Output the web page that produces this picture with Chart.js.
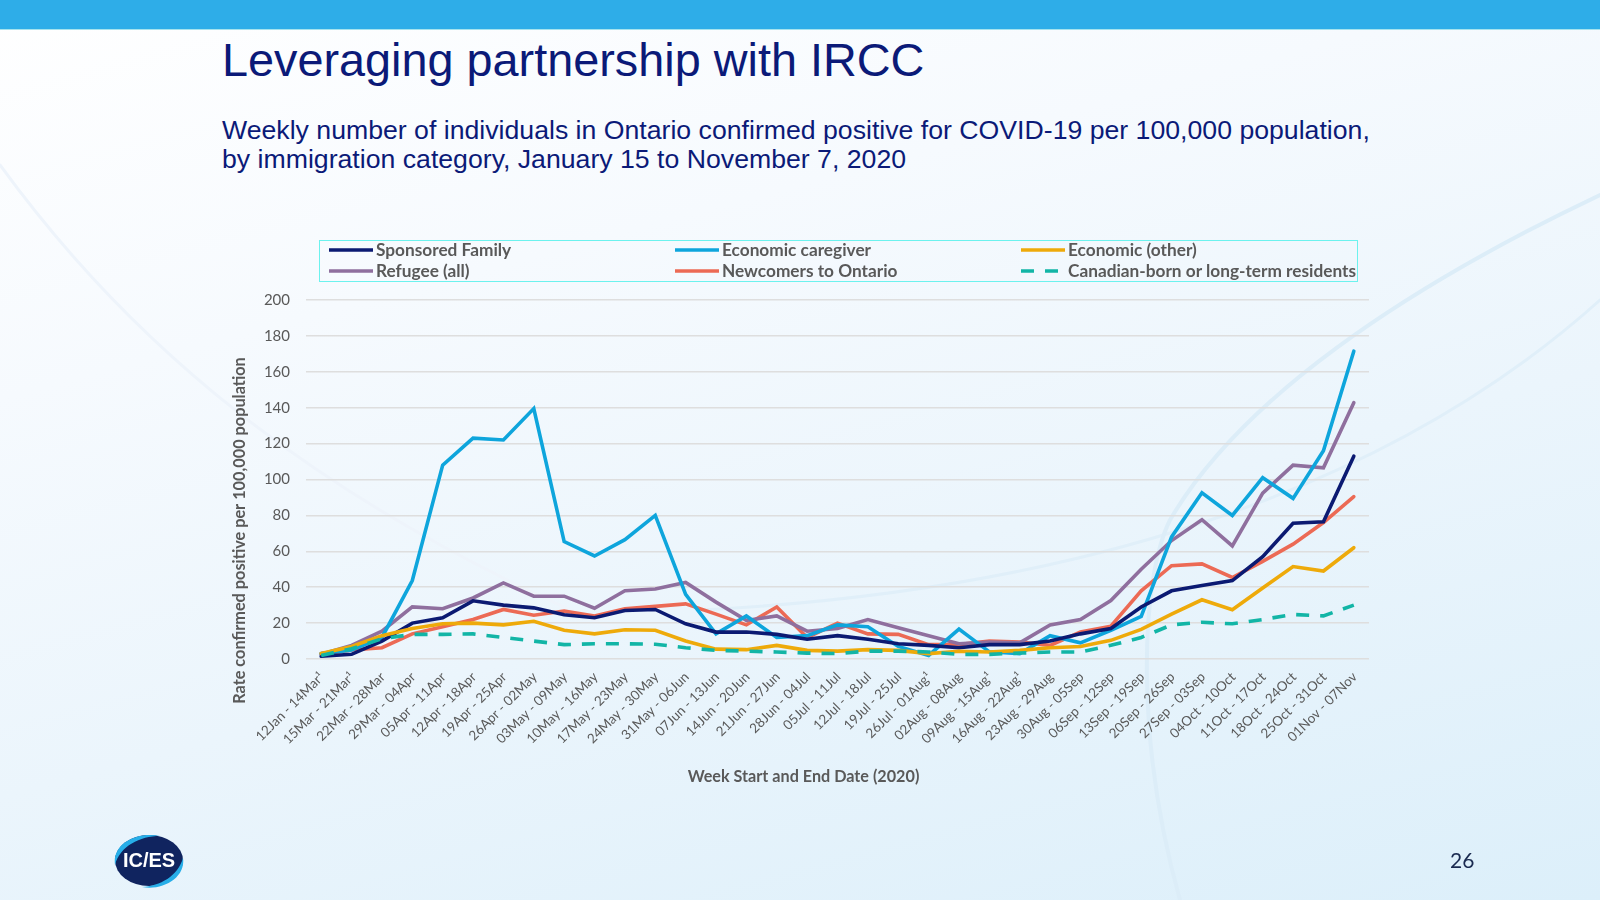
<!DOCTYPE html>
<html><head><meta charset="utf-8">
<style>
html,body{margin:0;padding:0;width:1600px;height:900px;overflow:hidden;background:#fff}
#bg{position:absolute;left:0;top:0;width:1600px;height:900px;background:linear-gradient(165deg,#ffffff 0%,#f6fafe 30%,#ebf5fc 60%,#dceffa 100%)}
#band{position:absolute;left:0;top:0;width:1600px;height:30px;background:#2eade8;border-bottom:1px solid #a5e3ee;box-sizing:border-box}
#title{position:absolute;left:222px;top:33px;font:46.8px "Liberation Sans",Arial,sans-serif;color:#0b1a78;white-space:nowrap}
#sub{position:absolute;left:222px;top:116px;font:26.67px/29px "Liberation Sans",Arial,sans-serif;color:#0b1a78;white-space:nowrap}
#chart{position:absolute;left:0;top:0;width:1600px;height:900px}
#legend{position:absolute;left:319px;top:240px;width:1037px;height:40px;border:1.5px solid #6cf2ee;box-sizing:content-box}
.li{position:absolute;font:bold 17.25px Lato,sans-serif;color:#595959;white-space:nowrap;line-height:20px}
.li svg{position:absolute;left:-48px;top:0}
#page{position:absolute;left:1450px;top:847px;font:21px Lato,sans-serif;color:#1a2a50}
#logo{position:absolute;left:110px;top:832px}
svg#curves{position:absolute;left:0;top:0}
</style></head><body>
<div id="bg"></div>
<svg id="curves" width="1600" height="900" fill="none" stroke-linecap="round">
<path d="M0 165 C120 330 300 500 640 640" stroke="#eef4fb" stroke-width="3"/>
<path d="M1600 300 C1400 480 1100 590 700 610" stroke="#e0eff9" stroke-width="3"/>
<path d="M1600 195 C1400 290 1240 400 1170 520 C1140 580 1135 740 1180 900" stroke="#dcedf8" stroke-width="4"/>
</svg>
<div id="band"></div>
<div id="title">Leveraging partnership with IRCC</div>
<div id="sub">Weekly number of individuals in Ontario confirmed positive for COVID-19 per 100,000 population,<br>by immigration category, January 15 to November 7, 2020</div>
<canvas id="chart" width="1600" height="900"></canvas>
<div id="legend"></div>
<svg id="logo" width="80" height="60"><ellipse cx="39" cy="28.5" rx="34" ry="25.5" fill="#10245f"/><path d="M5 33 C2 12 26 -1 50 4 C30 4 10 14 5 33Z" fill="#27aee8"/><path d="M73 26 C76 46 52 59 32 55 C50 54 68 44 73 26Z" fill="#27aee8"/><text x="39" y="35" text-anchor="middle" font-family="Liberation Sans" font-weight="bold" font-size="20" fill="#fff">IC/ES</text></svg>
<div id="page">26</div>
<script src="https://cdn.jsdelivr.net/npm/chart.js@4/dist/chart.umd.min.js"></script>
<script>
const weeks=["12Jan - 14Mar¹","15Mar - 21Mar¹","22Mar - 28Mar","29Mar - 04Apr","05Apr - 11Apr","12Apr - 18Apr","19Apr - 25Apr","26Apr - 02May","03May - 09May","10May - 16May","17May - 23May","24May - 30May","31May - 06Jun","07Jun - 13Jun","14Jun - 20Jun","21Jun - 27Jun","28Jun - 04Jul","05Jul - 11Jul","12Jul - 18Jul","19Jul - 25Jul","26Jul - 01Aug¹","02Aug - 08Aug","09Aug - 15Aug¹","16Aug - 22Aug¹","23Aug - 29Aug","30Aug - 05Sep","06Sep - 12Sep","13Sep - 19Sep","20Sep - 26Sep","27Sep - 03Sep","04Oct - 10Oct","11Oct - 17Oct","18Oct - 24Oct","25Oct - 31Oct","01Nov - 07Nov"];
const sponsoredFamily=[1.5,2.6,10,20,23,32.4,30,28.5,24.6,23,27,27.6,19.6,15,15,13.7,11,13,11,8.5,7.6,6.3,8,8,10,14,17,29,38,41,43.7,57,75.6,76.5,113];
const economicCaregiver=[3,5,12,43.7,108,123,122,139.5,65.4,57.4,66.5,80,36,14,24,12,13,19,18,7,2,16.7,4,3,13,9,16,23.7,68,92.6,80,101,89.5,116,171.5];
const economicOther=[3,7,13,17,19.6,20,19,21,16,14,16.3,16,10,5.5,5.2,7.6,4.8,4.4,5.2,4.8,3,4.3,3.9,4.8,6.3,7,10.4,16.5,25,33,27.4,39.6,51.5,49,62];
const refugeeAll=[2.6,7.6,15.5,29,28,34,42.4,35,35,28.3,38,39,42.6,31.7,21.5,24,15.5,17,22,17.4,13,8.5,9.5,9,19,22,32.6,50,66,77.6,63,92.4,108,106.5,142.8];
const newcomers=[3,5,6.3,14,18,22,27.6,24.4,26.7,24,28,29.3,30.7,25,19,29,12,20,14,13.7,8,8,10,9.5,7.6,15,18.3,38,52,53,45.4,54.4,64,76,90.5];
const canadianBorn=[2,5.7,11.3,13.7,13.7,14,12,10,8,8.5,8.5,8.2,6.3,4.8,4.4,3.9,3.3,3,4.4,4.4,3.9,2.6,2.6,3.3,3.9,3.9,7.6,12,19,20.5,19.6,22,24.8,24,30];
const seriesNames=["Sponsored Family","Economic caregiver","Economic (other)","Refugee (all)","Newcomers to Ontario","Canadian-born or long-term residents"];
const yTitle="Rate confirmed positive per 100,000 population";
const xTitle="Week Start and End Date (2020)";
const values=[sponsoredFamily,economicCaregiver,economicOther,refugeeAll,newcomers,canadianBorn];
const colors=["#0b1a72","#0ea5dc","#eeaa0a","#8f6f9e","#ec6a55","#12b5a6"];
const order=[5,2,0,1,3,4];
const datasets=order.map(i=>({label:seriesNames[i],data:values[i],borderColor:colors[i],backgroundColor:colors[i],borderWidth:3.6,pointRadius:0,tension:0,borderJoinStyle:'miter',borderCapStyle:i==5?'butt':'round',borderDash:i==5?[13,11]:[],fill:false}));
function shiftTitle(s,dx,dy){const base=Object.getPrototypeOf(s).drawTitle;s.drawTitle=function(){const c=this.ctx;c.save();c.translate(dx,dy);base.call(this);c.restore();};}
new Chart(document.getElementById('chart'),{type:'line',data:{labels:weeks,datasets},options:{responsive:false,animation:false,
 layout:{padding:{left:231,right:231,top:300,bottom:115}},
 plugins:{legend:{display:false},tooltip:{enabled:false}},
 scales:{
  y:{min:0,max:200,ticks:{stepSize:20,color:'#595959',font:{family:'Lato',size:15},padding:16},grid:{color:'#dedede',lineWidth:1.6,drawTicks:false},border:{display:false},
    title:{display:true,text:yTitle,color:'#595959',font:{family:'Lato',size:16.3,weight:'bold'},padding:{top:0,bottom:0}},
    afterFit(s){s.width=75;shiftTitle(s,-1,51)}},
  x:{offset:true,ticks:{color:'#595959',font:{family:'Lato',size:13.4},minRotation:45,maxRotation:45,autoSkip:false,padding:10,labelOffset:1},grid:{display:false,drawTicks:false},border:{display:false},
    title:{display:true,text:xTitle,color:'#595959',font:{family:'Lato',size:16.2,weight:'bold'},padding:{top:0,bottom:0}},
    afterFit(s){s.height=126;shiftTitle(s,-34,1)}}
 }}});
const legend=document.getElementById('legend');
const lx=[56,402,748],ly=[-1,20];
seriesNames.forEach((n,i)=>{const d=document.createElement('div');d.className='li';d.style.left=lx[i%3]+'px';d.style.top=ly[Math.floor(i/3)]+'px';d.textContent=n;
 d.insertAdjacentHTML('afterbegin',`<svg width="46" height="20"><line x1="1" x2="45" y1="10" y2="10" stroke="${colors[i]}" stroke-width="3.6" ${i==5?'stroke-dasharray="13 11"':''}/></svg>`);legend.appendChild(d);});
</script>
</body></html>
